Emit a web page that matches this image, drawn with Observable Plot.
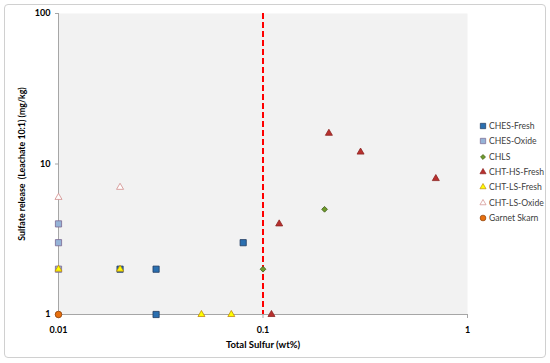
<!DOCTYPE html>
<html>
<head>
<meta charset="utf-8">
<script src="https://cdn.jsdelivr.net/npm/d3@7"></script>
<script src="https://cdn.jsdelivr.net/npm/@observablehq/plot@0.6"></script>
<style>
  html, body { margin: 0; padding: 0; background: #fff; }
  #wrap { position: relative; width: 550px; height: 363px; font-family: Lato, "Liberation Sans", sans-serif; }
  #border { position: absolute; left: 4px; top: 4px; width: 540px; height: 352px; border: 1px solid #d0d0d0; border-radius: 4px; }
  #chart { position: absolute; left: 0; top: 0; }
  #legend { position: absolute; left: 479px; top: 118.5px; font-size: 8.6px; color: #404040; }
  #legend .item { height: 15.3px; display: flex; align-items: center; white-space: nowrap; }
  #legend svg { margin-right: 2px; }
  #chart svg text { font-family: Lato, "Liberation Sans", sans-serif; }
</style>
</head>
<body>
<div id="wrap">
  <div id="border"></div>
  <div id="chart"></div>
  <div id="legend"></div>
</div>
<script>
// ---- data ----
const seriesNames = ["CHES-Fresh", "CHES-Oxide", "CHLS", "CHT-HS-Fresh", "CHT-LS-Fresh", "CHT-LS-Oxide", "Garnet Skarn"];
const chesFreshX = [0.02, 0.03, 0.03, 0.08];
const chesFreshY = [2, 2, 1, 3];
const chesOxideX = [0.01, 0.01, 0.01];
const chesOxideY = [4, 3, 2];
const chlsX = [0.1, 0.2];
const chlsY = [2, 5];
const chtHsFreshX = [0.21, 0.3, 0.12, 0.11, 0.7];
const chtHsFreshY = [16, 12, 4, 1, 8];
const chtLsFreshX = [0.01, 0.02, 0.05, 0.07];
const chtLsFreshY = [2, 2, 1, 1];
const chtLsOxideX = [0.01, 0.02];
const chtLsOxideY = [6, 7];
const garnetSkarnX = [0.01];
const garnetSkarnY = [1];
const xTicks = [0.01, 0.1, 1];
const xTickLabels = ["0.01", "0.1", "1"];
const yTicks = [1, 10, 100];
const yTickLabels = ["1", "10", "100"];
const thresholdX = [0.1];
const xTitle = "Total Sulfur (wt%)";
const yTitle = "Sulfate release  (Leachate 10:1) (mg/kg)";

// ---- styles ----
const styles = {
  "CHES-Fresh":   {symbol: "square",   fill: "#2a6fb0", stroke: "#1f3a5f", r: 3.5},
  "CHES-Oxide":   {symbol: "square",   fill: "#95b3d7", stroke: "#7a6790", r: 3.5},
  "CHLS":         {symbol: "diamond2", fill: "#6e9a2a", stroke: "#3f5a1a", r: 2.6},
  "CHT-HS-Fresh": {symbol: "triangle", fill: "#b8302e", stroke: "#8c2422", r: 2.6},
  "CHT-LS-Fresh": {symbol: "triangle", fill: "#ffff00", stroke: "#c08a10", r: 2.6},
  "CHT-LS-Oxide": {symbol: "triangle", fill: "#ffffff", stroke: "#d08c8a", r: 2.6},
  "Garnet Skarn": {symbol: "circle",   fill: "#e8700e", stroke: "#8a3f08", r: 3.3}
};
const seriesData = {
  "CHES-Fresh": [chesFreshX, chesFreshY],
  "CHES-Oxide": [chesOxideX, chesOxideY],
  "CHLS": [chlsX, chlsY],
  "CHT-HS-Fresh": [chtHsFreshX, chtHsFreshY],
  "CHT-LS-Fresh": [chtLsFreshX, chtLsFreshY],
  "CHT-LS-Oxide": [chtLsOxideX, chtLsOxideY],
  "Garnet Skarn": [garnetSkarnX, garnetSkarnY]
};
// draw order (later on top)
const drawOrder = ["CHT-HS-Fresh", "CHLS", "CHES-Oxide", "CHES-Fresh", "CHT-LS-Oxide", "Garnet Skarn", "CHT-LS-Fresh"];

const dotMarks = drawOrder.map(name => {
  const [xs, ys] = seriesData[name];
  const s = styles[name];
  const rows = xs.map((x, i) => ({x, y: ys[i]}));
  return Plot.dot(rows, {x: "x", y: "y", symbol: () => s.symbol, fill: s.fill, stroke: s.stroke, strokeWidth: 0.8, r: s.r});
});

const chart = Plot.plot({
  width: 550,
  height: 363,
  marginLeft: 58,
  marginRight: 83,
  marginTop: 13,
  marginBottom: 49,
  style: {background: "transparent", fontSize: "9px", color: "#000"},
  x: {type: "log", domain: [0.01, 1]},
  y: {type: "log", domain: [1, 100]},
  symbol: {type: "identity"},
  marks: [
    Plot.frame({fill: "#f2f2f2", stroke: null}),
    Plot.ruleX([0.01], {stroke: "#a6a6a6", strokeWidth: 1}),
    Plot.ruleY([1], {stroke: "#a6a6a6", strokeWidth: 1}),
    Plot.axisX({ticks: xTicks, tickFormat: (d) => xTickLabels[xTicks.indexOf(d)], tickSize: 4, tickPadding: 8, stroke: "#a6a6a6", fill: "#000", fontWeight: "bold", label: null}),
    Plot.axisY({ticks: yTicks, tickFormat: (d) => yTickLabels[yTicks.indexOf(d)], tickSize: 3, tickPadding: 5, stroke: "#a6a6a6", fill: "#000", fontWeight: "bold", label: null}),
    Plot.text([xTitle], {frameAnchor: "bottom", dy: 33, text: d => d, fontWeight: "bold", fontSize: 9.5, fill: "#000"}),
    Plot.text([yTitle], {frameAnchor: "left", dx: -36, rotate: -90, textAnchor: "middle", text: d => d, fontWeight: "bold", fontSize: 8.8, fill: "#000"}),
    Plot.ruleX(thresholdX, {stroke: "#ff0000", strokeWidth: 2, strokeDasharray: "6,3"}),
    ...dotMarks
  ]
});
document.getElementById("chart").appendChild(chart);

// ---- legend ----
const legend = d3.select("#legend");
const symMap = {square: d3.symbolSquare, diamond2: d3.symbolDiamond2, triangle: d3.symbolTriangle, circle: d3.symbolCircle};
seriesNames.forEach(name => {
  const s = styles[name];
  const item = legend.append("div").attr("class", "item");
  const svg = item.append("svg").attr("width", 8).attr("height", 8);
  svg.append("path")
    .attr("transform", "translate(4,4)")
    .attr("d", d3.symbol(symMap[s.symbol], s.r * s.r * Math.PI * 0.75)())
    .attr("fill", s.fill).attr("stroke", s.stroke).attr("stroke-width", 0.7);
  item.append("span").text(name);
});
</script>
</body>
</html>
